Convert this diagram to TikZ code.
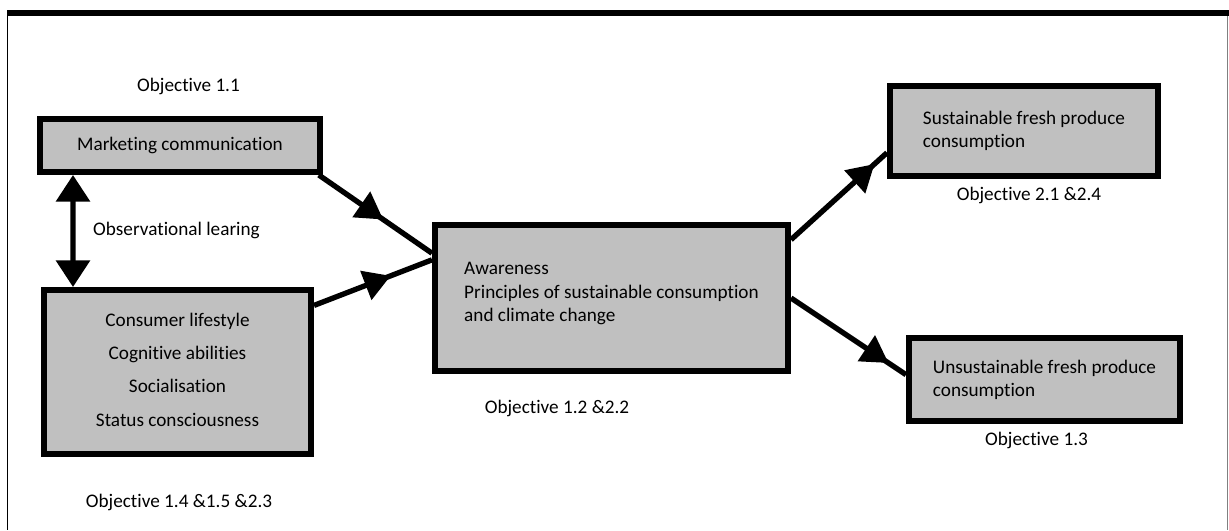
\documentclass[tikz,border=0pt]{standalone}
\usepackage{fontspec}
\setmainfont{Carlito}[Ligatures=NoCommon]
\usepackage{tikz}
\usetikzlibrary{arrows.meta,decorations.markings,backgrounds,positioning}
\definecolor{boxgray}{RGB}{192,192,192}

\begin{document}
\begin{tikzpicture}[x=0.03cm,y=-0.03cm,font=\fontsize{16.4}{19.8}\selectfont,
factor/.style={rectangle,draw=black,fill=boxgray,line width=0.18cm,inner sep=0pt},
caption/.style={inner sep=0pt},
link/.style={line width=0.16cm,decoration={markings,mark=at position #1 with {\arrow{Triangle[width=0.9cm,length=0.8cm]}}},postaction={decorate}},
twoway/.style={line width=0.16cm,{Triangle[width=1cm,length=0.8cm]}-{Triangle[width=1cm,length=0.8cm]}}]
\useasboundingbox (0,0) rectangle (1229,530);

\node(MC)[factor,minimum width=8.4cm,minimum height=1.59cm] at (180,145.5) {Marketing communication};
\node(CL)[factor,minimum width=8.01cm,minimum height=4.92cm,align=center,text depth=0.14cm] at (177.5,372) {Consumer lifestyle\\[0.3cm]Cognitive abilities\\[0.3cm]Socialisation\\[0.3cm]Status consciousness};
\node(Aw)[factor,minimum width=10.59cm,minimum height=4.38cm,align=left,text depth=0.36cm] at (611.5,298) {Awareness\\Principles of sustainable consumption\\and climate change};
\node(SP)[factor,minimum width=8.04cm,minimum height=2.7cm,align=left] at (1024,131) {Sustainable fresh produce\\consumption};
\node(UP)[factor,minimum width=8.13cm,minimum height=2.49cm,align=left] at (1044.5,379.5) {Unsustainable fresh produce\\consumption};

\node(o11)[caption] at (188.5,86) {Objective 1.1};
\node(obs)[caption,anchor=west] at (93,230) {Observational learing};
\node(o14)[caption] at (179,502) {Objective 1.4 \&1.5 \&2.3};
\node(o12)[caption] at (557,408) {Objective 1.2 \&2.2};
\node(o21)[caption] at (1029,195) {Objective 2.1 \&2.4};
\node(o13)[caption] at (1036.5,440) {Objective 1.3};

% frame
\draw[line width=0.18cm] (7,13) -- (1229,13);
\draw[line width=0.05cm] (7.5,13) -- (7.5,530);
\draw[line width=0.03cm,draw=gray] (1227.5,16) -- (1227.5,530);

\begin{scope}[on background layer]
\draw [twoway] ([xshift=1.08cm]MC.south west) to ([xshift=0.96cm]CL.north west);
\draw [link=0.57] (MC.-12.5) to (Aw.166.5);
\draw [link=0.65] (CL.26.1) to (Aw.168);
\draw [link=0.87] (Aw.18) to (SP.189);
\draw [link=0.85] (Aw.0) to (UP.178);
\end{scope}
\end{tikzpicture}
\end{document}
